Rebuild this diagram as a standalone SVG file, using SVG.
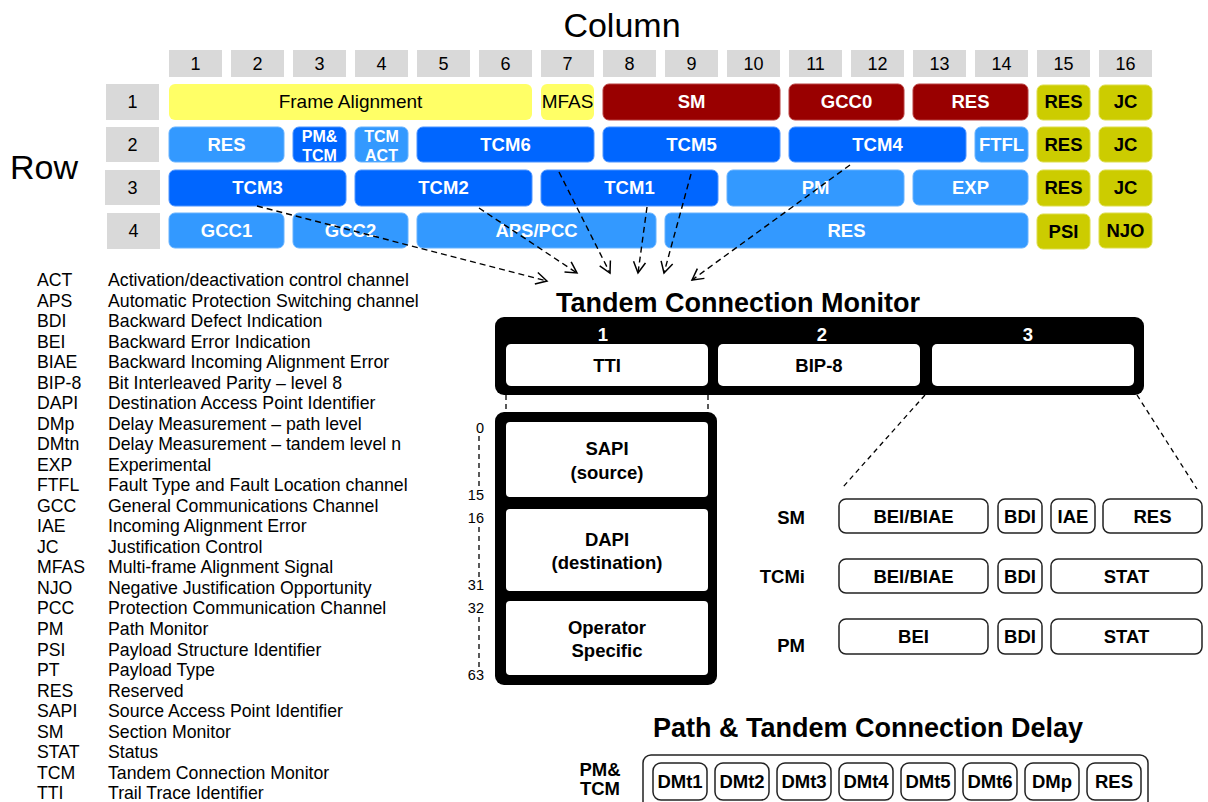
<svg xmlns="http://www.w3.org/2000/svg" width="1208" height="802" viewBox="0 0 1208 802">
<defs>
<style>
text{font-family:"Liberation Sans",Arial,sans-serif;}
.hdr{fill:#D9D9D9;}
.hn{font-size:18px;fill:#000;text-anchor:middle;}
.yel{fill:#FFFF66;}
.red{fill:#990000;stroke:#b84040;stroke-width:1;}
.dk{fill:#0066FF;stroke:#4d94ff;stroke-width:1;}
.lt{fill:#3399FF;stroke:#66b2ff;stroke-width:1;}
.ol{fill:#CCCC00;stroke:#dddd4d;stroke-width:1;}
.wt{font-size:18.5px;font-weight:bold;fill:#fff;text-anchor:middle;}
.bt{font-size:18.5px;font-weight:bold;fill:#000;text-anchor:middle;}
.st{font-size:16px;font-weight:bold;fill:#fff;text-anchor:middle;}
.nt{font-size:19px;fill:#000;text-anchor:middle;}
.lg{font-size:17.7px;fill:#000;}
.title{font-size:27px;font-weight:bold;fill:#000;text-anchor:middle;}
.cell{fill:#fff;}
.ob{fill:#fff;stroke:#222;stroke-width:1.5;}
.lbl{font-size:18.5px;font-weight:bold;fill:#000;text-anchor:end;}
.sc{font-size:14.5px;fill:#000;text-anchor:end;}
.dash{fill:none;stroke:#000;stroke-width:1.3;stroke-dasharray:5 4;}
.arr{fill:none;stroke:#000;stroke-width:1.4;stroke-dasharray:6 4;marker-end:url(#ah);}
</style>
<marker id="ah" markerUnits="userSpaceOnUse" markerWidth="14" markerHeight="14" refX="12" refY="7" orient="auto">
<path d="M1,1 L12,7 L1,13" fill="none" stroke="#000" stroke-width="1.5"/>
</marker>
</defs>
<rect width="1208" height="802" fill="#fff"/>

<g id="axis-labels">
<text x="622" y="37" font-size="34" text-anchor="middle">Column</text>
<text x="10" y="179" font-size="34">Row</text>
</g>

<g id="column-headers">
<rect class="hdr" x="169" y="50" width="53" height="27"/><text class="hn" x="195.5" y="70">1</text>
<rect class="hdr" x="231" y="50" width="53" height="27"/><text class="hn" x="257.5" y="70">2</text>
<rect class="hdr" x="293" y="50" width="53" height="27"/><text class="hn" x="319.5" y="70">3</text>
<rect class="hdr" x="355" y="50" width="53" height="27"/><text class="hn" x="381.5" y="70">4</text>
<rect class="hdr" x="417" y="50" width="53" height="27"/><text class="hn" x="443.5" y="70">5</text>
<rect class="hdr" x="479" y="50" width="53" height="27"/><text class="hn" x="505.5" y="70">6</text>
<rect class="hdr" x="541" y="50" width="53" height="27"/><text class="hn" x="567.5" y="70">7</text>
<rect class="hdr" x="603" y="50" width="53" height="27"/><text class="hn" x="629.5" y="70">8</text>
<rect class="hdr" x="665" y="50" width="53" height="27"/><text class="hn" x="691.5" y="70">9</text>
<rect class="hdr" x="727" y="50" width="53" height="27"/><text class="hn" x="753.5" y="70">10</text>
<rect class="hdr" x="789" y="50" width="53" height="27"/><text class="hn" x="815.5" y="70">11</text>
<rect class="hdr" x="851" y="50" width="53" height="27"/><text class="hn" x="877.5" y="70">12</text>
<rect class="hdr" x="913" y="50" width="53" height="27"/><text class="hn" x="939.5" y="70">13</text>
<rect class="hdr" x="975" y="50" width="53" height="27"/><text class="hn" x="1001.5" y="70">14</text>
<rect class="hdr" x="1037" y="50" width="53" height="27"/><text class="hn" x="1063.5" y="70">15</text>
<rect class="hdr" x="1099" y="50" width="53" height="27"/><text class="hn" x="1125.5" y="70">16</text>
</g>

<g id="row-headers">
<rect class="hdr" x="106" y="84" width="53" height="36"/><text class="hn" x="132.5" y="108">1</text>
<rect class="hdr" x="106" y="127" width="53" height="35"/><text class="hn" x="132.5" y="151">2</text>
<rect class="hdr" x="105" y="170" width="55" height="35"/><text class="hn" x="132.5" y="194">3</text>
<rect class="hdr" x="107" y="213" width="53" height="36"/><text class="hn" x="133.5" y="237">4</text>
</g>

<g id="row1">
<rect class="yel" x="169" y="84" width="363" height="36" rx="6"/><text class="nt" x="350.5" y="108">Frame Alignment</text>
<rect class="yel" x="541" y="84" width="53" height="36" rx="6"/><text class="nt" x="567.5" y="108">MFAS</text>
<rect class="red" x="603" y="84" width="177" height="36" rx="6"/><text class="wt" x="691.5" y="108">SM</text>
<rect class="red" x="789" y="84" width="115" height="36" rx="6"/><text class="wt" x="846.5" y="108">GCC0</text>
<rect class="red" x="913" y="84" width="115" height="36" rx="6"/><text class="wt" x="970.5" y="108">RES</text>
<rect class="ol" x="1037" y="85" width="53" height="35" rx="6"/><text class="bt" x="1063.5" y="108">RES</text>
<rect class="ol" x="1099" y="85" width="53" height="35" rx="6"/><text class="bt" x="1125.5" y="108">JC</text>
</g>

<g id="row2">
<rect class="lt" x="169" y="127" width="115" height="35" rx="6"/><text class="wt" x="226.5" y="151">RES</text>
<rect class="dk" x="293" y="127" width="53" height="35" rx="6"/><text class="st" x="319.5" y="142">PM&amp;</text><text class="st" x="319.5" y="161">TCM</text>
<rect class="lt" x="355" y="127" width="53" height="35" rx="6"/><text class="st" x="381.5" y="142">TCM</text><text class="st" x="381.5" y="161">ACT</text>
<rect class="dk" x="417" y="127" width="177" height="35" rx="6"/><text class="wt" x="505.5" y="151">TCM6</text>
<rect class="dk" x="603" y="127" width="177" height="35" rx="6"/><text class="wt" x="691.5" y="151">TCM5</text>
<rect class="dk" x="789" y="127" width="177" height="35" rx="6"/><text class="wt" x="877.5" y="151">TCM4</text>
<rect class="lt" x="975" y="127" width="53" height="35" rx="6"/><text class="wt" x="1001.5" y="151">FTFL</text>
<rect class="ol" x="1037" y="127" width="53" height="35" rx="6"/><text class="bt" x="1063.5" y="151">RES</text>
<rect class="ol" x="1099" y="127" width="53" height="35" rx="6"/><text class="bt" x="1125.5" y="151">JC</text>
</g>

<g id="row3">
<rect class="dk" x="169" y="170" width="177" height="36" rx="6"/><text class="wt" x="257.5" y="194">TCM3</text>
<rect class="dk" x="355" y="170" width="177" height="36" rx="6"/><text class="wt" x="443.5" y="194">TCM2</text>
<rect class="dk" x="541" y="170" width="177" height="36" rx="6"/><text class="wt" x="629.5" y="194">TCM1</text>
<rect class="lt" x="727" y="170" width="177" height="36" rx="6"/><text class="wt" x="815.5" y="194">PM</text>
<rect class="lt" x="913" y="170" width="115" height="35" rx="6"/><text class="wt" x="970.5" y="194">EXP</text>
<rect class="ol" x="1037" y="170" width="53" height="36" rx="6"/><text class="bt" x="1063.5" y="194">RES</text>
<rect class="ol" x="1099" y="170" width="53" height="36" rx="6"/><text class="bt" x="1125.5" y="194">JC</text>
</g>

<g id="row4">
<rect class="lt" x="169" y="213" width="115" height="35" rx="6"/><text class="wt" x="226.5" y="237">GCC1</text>
<rect class="lt" x="293" y="213" width="115" height="35" rx="6"/><text class="wt" x="350.5" y="237">GCC2</text>
<rect class="lt" x="417" y="213" width="239" height="35" rx="6"/><text class="wt" x="536.5" y="237">APS/PCC</text>
<rect class="lt" x="665" y="213" width="363" height="35" rx="6"/><text class="wt" x="846.5" y="237">RES</text>
<rect class="ol" x="1037" y="214" width="53" height="35" rx="6"/><text class="bt" x="1063.5" y="238">PSI</text>
<rect class="ol" x="1099" y="213" width="53" height="35" rx="6"/><text class="bt" x="1125.5" y="237">NJO</text>
</g>

<g id="legend">
<text class="lg" x="37" y="286">ACT</text><text class="lg" x="108" y="286">Activation/deactivation control channel</text>
<text class="lg" x="37" y="306.5">APS</text><text class="lg" x="108" y="306.5">Automatic Protection Switching channel</text>
<text class="lg" x="37" y="327">BDI</text><text class="lg" x="108" y="327">Backward Defect Indication</text>
<text class="lg" x="37" y="347.5">BEI</text><text class="lg" x="108" y="347.5">Backward Error Indication</text>
<text class="lg" x="37" y="368">BIAE</text><text class="lg" x="108" y="368">Backward Incoming Alignment Error</text>
<text class="lg" x="37" y="388.5">BIP-8</text><text class="lg" x="108" y="388.5">Bit Interleaved Parity – level 8</text>
<text class="lg" x="37" y="409">DAPI</text><text class="lg" x="108" y="409">Destination Access Point Identifier</text>
<text class="lg" x="37" y="429.5">DMp</text><text class="lg" x="108" y="429.5">Delay Measurement – path level</text>
<text class="lg" x="37" y="450">DMtn</text><text class="lg" x="108" y="450">Delay Measurement – tandem level n</text>
<text class="lg" x="37" y="471">EXP</text><text class="lg" x="108" y="471">Experimental</text>
<text class="lg" x="37" y="491">FTFL</text><text class="lg" x="108" y="491">Fault Type and Fault Location channel</text>
<text class="lg" x="37" y="512">GCC</text><text class="lg" x="108" y="512">General Communications Channel</text>
<text class="lg" x="37" y="532">IAE</text><text class="lg" x="108" y="532">Incoming Alignment Error</text>
<text class="lg" x="37" y="553">JC</text><text class="lg" x="108" y="553">Justification Control</text>
<text class="lg" x="37" y="573">MFAS</text><text class="lg" x="108" y="573">Multi-frame Alignment Signal</text>
<text class="lg" x="37" y="594">NJO</text><text class="lg" x="108" y="594">Negative Justification Opportunity</text>
<text class="lg" x="37" y="614">PCC</text><text class="lg" x="108" y="614">Protection Communication Channel</text>
<text class="lg" x="37" y="635">PM</text><text class="lg" x="108" y="635">Path Monitor</text>
<text class="lg" x="37" y="655.5">PSI</text><text class="lg" x="108" y="655.5">Payload Structure Identifier</text>
<text class="lg" x="37" y="676">PT</text><text class="lg" x="108" y="676">Payload Type</text>
<text class="lg" x="37" y="696.5">RES</text><text class="lg" x="108" y="696.5">Reserved</text>
<text class="lg" x="37" y="717">SAPI</text><text class="lg" x="108" y="717">Source Access Point Identifier</text>
<text class="lg" x="37" y="737.5">SM</text><text class="lg" x="108" y="737.5">Section Monitor</text>
<text class="lg" x="37" y="758">STAT</text><text class="lg" x="108" y="758">Status</text>
<text class="lg" x="37" y="778.5">TCM</text><text class="lg" x="108" y="778.5">Tandem Connection Monitor</text>
<text class="lg" x="37" y="799">TTI</text><text class="lg" x="108" y="799">Trail Trace Identifier</text>
</g>

<g id="tcm-overhead">
<text class="title" x="738" y="312">Tandem Connection Monitor</text>
<rect x="495" y="317" width="649" height="78" rx="9" fill="#000"/>
<text class="wt" x="603" y="341" font-size="16">1</text>
<text class="wt" x="822" y="341" font-size="16">2</text>
<text class="wt" x="1028" y="341" font-size="16">3</text>
<rect class="cell" x="506" y="344" width="202" height="42" rx="5"/><text class="bt" x="607" y="372">TTI</text>
<rect class="cell" x="718" y="344" width="202" height="42" rx="5"/><text class="bt" x="819" y="372">BIP-8</text>
<rect class="cell" x="932" y="344" width="202" height="42" rx="5"/>
</g>

<g id="tti-detail">
<rect x="495" y="412" width="222" height="273" rx="9" fill="#000"/>
<rect class="cell" x="506" y="422" width="202" height="75" rx="4"/>
<text class="bt" x="607" y="455">SAPI</text><text class="bt" x="607" y="479">(source)</text>
<rect class="cell" x="506" y="509" width="202" height="82" rx="4"/>
<text class="bt" x="607" y="546">DAPI</text><text class="bt" x="607" y="569">(destination)</text>
<rect class="cell" x="506" y="601" width="202" height="74" rx="4"/>
<text class="bt" x="607" y="634">Operator</text><text class="bt" x="607" y="657">Specific</text>
<text class="sc" x="484" y="433">0</text>
<text class="sc" x="484" y="500">15</text>
<text class="sc" x="484" y="523">16</text>
<text class="sc" x="484" y="590">31</text>
<text class="sc" x="484" y="613">32</text>
<text class="sc" x="484" y="680">63</text>
</g>

<g id="byte3-detail">
<text class="lbl" x="805" y="524">SM</text>
<text class="lbl" x="805" y="583">TCMi</text>
<text class="lbl" x="805" y="652">PM</text>
<rect class="ob" x="839" y="499" width="149" height="34" rx="7"/><text class="bt" x="913.5" y="523">BEI/BIAE</text>
<rect class="ob" x="998" y="499" width="44" height="34" rx="7"/><text class="bt" x="1020" y="523">BDI</text>
<rect class="ob" x="1051" y="499" width="44" height="34" rx="7"/><text class="bt" x="1073" y="523">IAE</text>
<rect class="ob" x="1103" y="499" width="99" height="34" rx="7"/><text class="bt" x="1152.5" y="523">RES</text>
<rect class="ob" x="839" y="559" width="149" height="34" rx="7"/><text class="bt" x="913.5" y="583">BEI/BIAE</text>
<rect class="ob" x="998" y="559" width="44" height="34" rx="7"/><text class="bt" x="1020" y="583">BDI</text>
<rect class="ob" x="1051" y="559" width="151" height="34" rx="7"/><text class="bt" x="1126.5" y="583">STAT</text>
<rect class="ob" x="839" y="619" width="149" height="35" rx="7"/><text class="bt" x="913.5" y="643">BEI</text>
<rect class="ob" x="998" y="619" width="44" height="35" rx="7"/><text class="bt" x="1020" y="643">BDI</text>
<rect class="ob" x="1051" y="619" width="151" height="35" rx="7"/><text class="bt" x="1126.5" y="643">STAT</text>
</g>

<g id="delay">
<text class="title" x="868" y="737">Path &amp; Tandem Connection Delay</text>
<text class="bt" x="600" y="776">PM&amp;</text>
<text class="bt" x="600" y="795">TCM</text>
<rect x="643" y="755" width="505" height="70" rx="8" fill="none" stroke="#222" stroke-width="1.5"/>
<rect class="ob" x="653" y="763" width="54" height="37" rx="8"/><text class="bt" x="680" y="788">DMt1</text>
<rect class="ob" x="715" y="763" width="54" height="37" rx="8"/><text class="bt" x="742" y="788">DMt2</text>
<rect class="ob" x="777" y="763" width="54" height="37" rx="8"/><text class="bt" x="804" y="788">DMt3</text>
<rect class="ob" x="839" y="763" width="54" height="37" rx="8"/><text class="bt" x="866" y="788">DMt4</text>
<rect class="ob" x="901" y="763" width="54" height="37" rx="8"/><text class="bt" x="928" y="788">DMt5</text>
<rect class="ob" x="963" y="763" width="54" height="37" rx="8"/><text class="bt" x="990" y="788">DMt6</text>
<rect class="ob" x="1025" y="763" width="54" height="37" rx="8"/><text class="bt" x="1052" y="788">DMp</text>
<rect class="ob" x="1087" y="763" width="54" height="37" rx="8"/><text class="bt" x="1114" y="788">RES</text>
</g>

<g id="connectors">
<line class="arr" x1="257" y1="206" x2="547" y2="281"/>
<line class="arr" x1="479" y1="208" x2="577" y2="273"/>
<line class="arr" x1="559" y1="172" x2="610" y2="273"/>
<line class="arr" x1="647" y1="207" x2="638" y2="273"/>
<line class="arr" x1="691" y1="174" x2="664" y2="273"/>
<line class="arr" x1="850" y1="165" x2="692" y2="280"/>
<line class="dash" x1="506" y1="395" x2="506" y2="412"/>
<line class="dash" x1="708" y1="395" x2="708" y2="412"/>
<line class="dash" x1="925" y1="395" x2="843" y2="487"/>
<line class="dash" x1="1137" y1="395" x2="1197" y2="489"/>
<line class="dash" x1="479" y1="436" x2="479" y2="487"/>
<line class="dash" x1="479" y1="527" x2="479" y2="577"/>
<line class="dash" x1="479" y1="617" x2="479" y2="668"/>
</g>
</svg>
